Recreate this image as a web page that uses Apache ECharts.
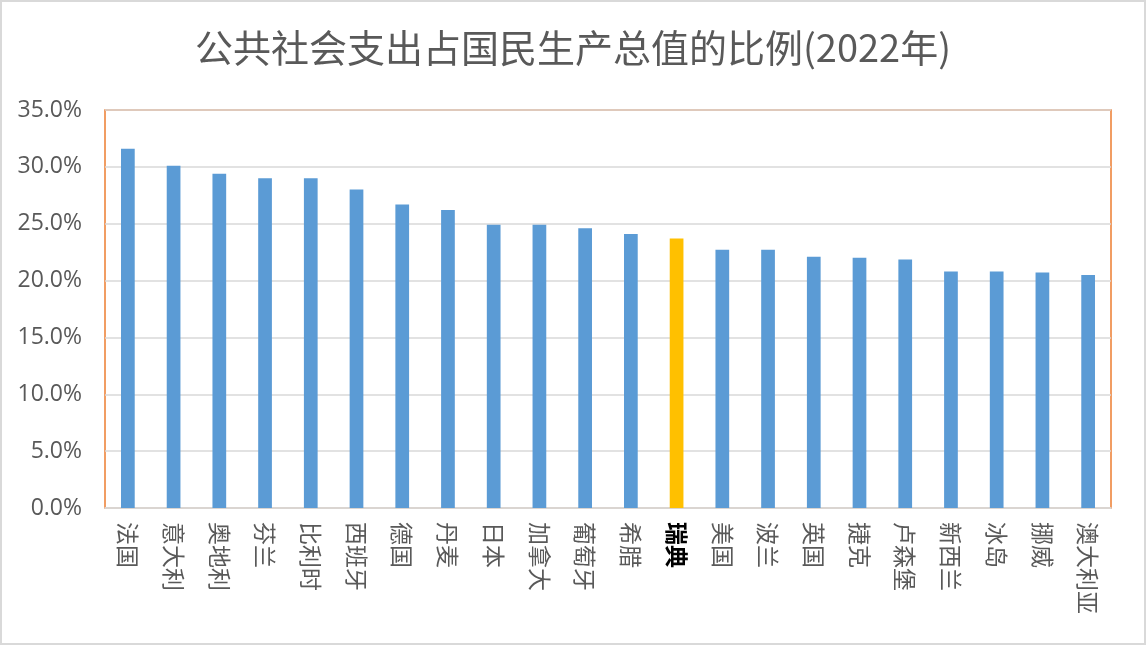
<!DOCTYPE html>
<html lang="zh">
<head>
    <meta charset="utf-8">
    <title>公共社会支出占国民生产总值的比例(2022年)</title>
    <script src="https://cdn.jsdelivr.net/npm/echarts@6/dist/echarts.min.js"></script>
    <style>
        html, body { margin: 0; padding: 0; background: #fff; }
        #chart { width: 1146px; height: 645px; box-sizing: border-box; border: 2px solid #d9d9d9; }
    </style>
</head>
<body>
<div id="chart"></div>
<script>
var countries = ['法国', '意大利', '奥地利', '芬兰', '比利时', '西班牙', '德国', '丹麦', '日本', '加拿大', '葡萄牙',
    '希腊', '瑞典', '美国', '波兰', '英国', '捷克', '卢森堡', '新西兰', '冰岛', '挪威', '澳大利亚'];
var shares = [31.6, 30.1, 29.4, 29.0, 29.0, 28.0, 26.7, 26.2, 24.9, 24.9, 24.6,
    24.1, 23.7, 22.7, 22.7, 22.1, 22.0, 21.85, 20.8, 20.8, 20.7, 20.5];
var highlight = '瑞典';

var font = '"Noto Sans CJK SC", "Noto Sans", sans-serif';

echarts.init(document.getElementById('chart')).setOption({
    animation: false,
    title: {
        text: '公共社会支出占国民生产总值的比例(2022年)',
        left: 'center',
        top: 22,
        textStyle: { fontSize: 38, fontWeight: 'normal', color: '#595959', fontFamily: font }
    },
    grid: {
        left: 103,
        right: 33,
        top: 108,
        bottom: 135,
        show: true,
        borderColor: '#ED7D31',
        borderWidth: 1.5,
        backgroundColor: '#fff'
    },
    xAxis: {
        type: 'category',
        data: countries,
        axisLine: { lineStyle: { color: '#d9d9d9', width: 1.5 } },
        axisTick: { show: false },
        axisLabel: {
            rotate: -90,
            interval: 0,
            margin: 14,
            fontSize: 23,
            color: '#595959',
            fontFamily: font,
            formatter: function (v) {
                return v === highlight ? '{b|' + v + '}' : v;
            },
            rich: {
                b: { fontSize: 23, fontWeight: 'bold', color: '#000', fontFamily: font }
            }
        }
    },
    yAxis: {
        type: 'value',
        min: 0,
        max: 35,
        interval: 5,
        axisLine: { show: false },
        axisTick: { show: false },
        splitLine: { lineStyle: { color: '#d9d9d9', width: 1.5 } },
        axisLabel: {
            margin: 23,
            fontSize: 23,
            color: '#595959',
            fontFamily: '"Open Sans", "Noto Sans", sans-serif',
            formatter: function (v) { return v.toFixed(1) + '%'; }
        }
    },
    series: [{
        type: 'bar',
        barWidth: '30%',
        data: shares.map(function (v, i) {
            return {
                value: v,
                itemStyle: { color: countries[i] === highlight ? '#FFC000' : '#5B9BD5' }
            };
        })
    }]
});
</script>
</body>
</html>
